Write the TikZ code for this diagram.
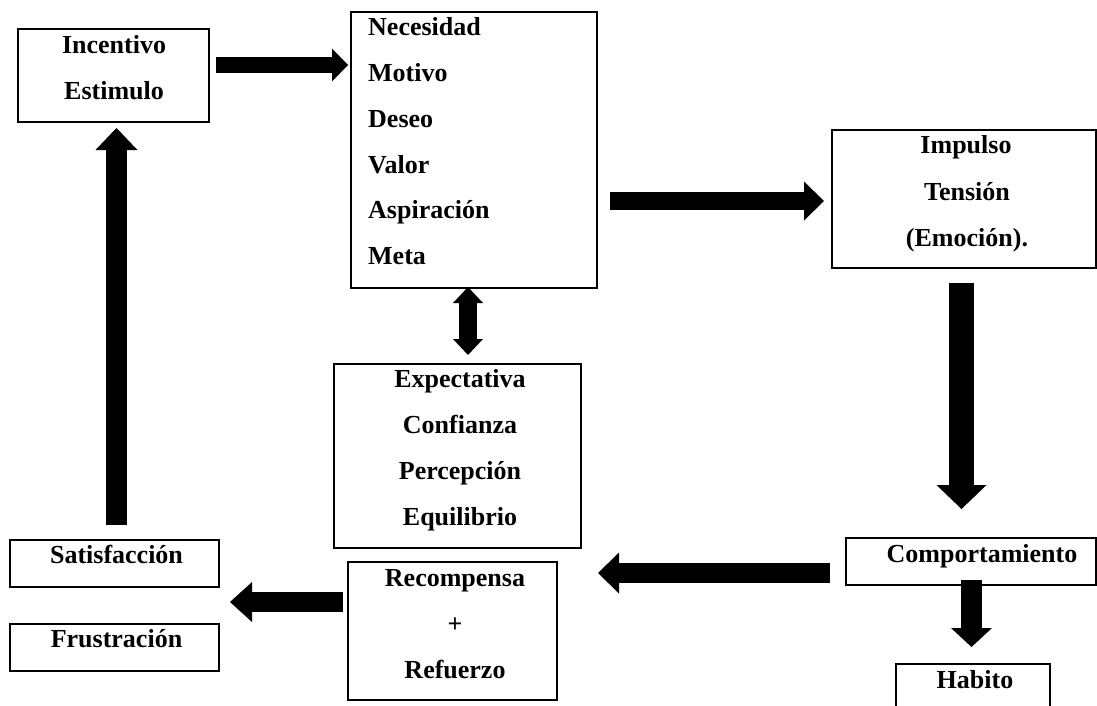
\documentclass[tikz,border=0pt]{standalone}
\usepackage{fontspec}
\setmainfont{Liberation Serif}
\usetikzlibrary{arrows.meta,calc}
\begin{document}
\begin{tikzpicture}[x=1pt,y=-1pt,
  box/.style={draw=black,line width=1.3pt,outer sep=0pt,inner sep=0pt,rectangle},
  lbl/.style={font=\fontsize{26}{30}\selectfont\bfseries,inner sep=0pt,anchor=base},
  lbll/.style={lbl,anchor=base west},
  fat/.style n args={3}{line width=#1,arrows={-Triangle[width=#2,length=#3,line width=0pt]}},
  fattwo/.style n args={3}{line width=#1,arrows={Triangle[width=#2,length=#3,line width=0pt]-Triangle[width=#2,length=#3,line width=0pt]}},
]
\useasboundingbox (0,0) rectangle (1097,705);
\clip (0,0) rectangle (1097,705);
\fill[white] (0,0) rectangle (1097,705);

% boxes
\node[box,minimum width=191pt,minimum height=93pt] (inc) at (113.5,75.5) {};
\node[box,minimum width=246pt,minimum height=276pt] (nec) at (474,150) {};
\node[box,minimum width=264pt,minimum height=138pt] (imp) at (964,199) {};
\node[box,minimum width=247pt,minimum height=184pt] (exp) at (457.5,456) {};
\node[box,minimum width=209pt,minimum height=47pt] (sat) at (114.5,563.5) {};
\node[box,minimum width=209pt,minimum height=47pt] (fru) at (114.5,647.5) {};
\node[box,minimum width=209pt,minimum height=138pt] (rec) at (452.5,631) {};
\node[box,minimum width=250pt,minimum height=47pt] (com) at (971,561.5) {};
\node[box,minimum width=154pt,minimum height=80pt] (hab) at (973,704) {};

% texts
\node[lbl] (inc1) at (114,53) {Incentivo};
\node[lbl] (inc2) at (114,99) {Estimulo};

\node[lbll] (nec1) at (368,35) {Necesidad};
\node[lbll] (nec2) at (368,81) {Motivo};
\node[lbll] (nec3) at (368,127) {Deseo};
\node[lbll] (nec4) at (368,173) {Valor};
\node[lbll] (nec5) at (368,218) {Aspiración};
\node[lbll] (nec6) at (368,264) {Meta};

\node[lbl] (imp1) at (966,153) {Impulso};
\node[lbl] (imp2) at (967,200) {Tensión};
\node[lbl] (imp3) at (967,246) {(Emoción).};

\node[lbl] (exp1) at (460,387) {Expectativa};
\node[lbl] (exp2) at (460,433) {Confianza};
\node[lbl] (exp3) at (460,479) {Percepción};
\node[lbl] (exp4) at (460,525) {Equilibrio};

\node[lbl] (sat1) at (116.5,563) {Satisfacción};
\node[lbl] (fru1) at (116.5,647) {Frustración};

\node[lbl] (rec1) at (455,586) {Recompensa};
\node[lbl] (rec2) at (455,632) {+};
\node[lbl] (rec3) at (455,678) {Refuerzo};

\node[lbl] (com1) at (982,562) {Comportamiento};
\node[lbl] (hab1) at (975,688) {Habito};

% connectors
\coordinate (sf) at ($(sat.east)!0.5!(fru.east)$);
\draw[fat={16pt}{33pt}{16pt}] ($(inc.east)+(7,-10.5)$) -- ($(nec.west)+(-3,-85)$);
\draw[fat={18pt}{39pt}{20pt}] ($(nec.east)+(13,51)$) -- ($(imp.west)+(-8,2)$);
\draw[fat={25pt}{50pt}{24pt}] ($(imp.south)+(-2.5,15)$) -- ($(com.north)+(-9.5,-29)$);
\draw[fat={21pt}{41pt}{19pt}] ($(com.south)+(0.5,-5)$) -- ($(hab.north)+(-1.5,-17)$);
\draw[fat={20pt}{41pt}{21pt}] ($(com.west)+(-16,11.5)$) -- ($(rec.east)+(41,-58)$);
\draw[fat={20pt}{40pt}{22pt}] ($(rec.west)+(-5,-29)$) -- ($(sf)+(11,-3.5)$);
\draw[fat={21pt}{42pt}{22pt}] ($(sat.north)+(2,-15)$) -- ($(inc.south)+(3,6)$);
\draw[fattwo={18pt}{30pt}{16pt}] ($(nec.south)+(-6,-1)$) -- ($(exp.north)+(10.5,-9)$);
\end{tikzpicture}
\end{document}
